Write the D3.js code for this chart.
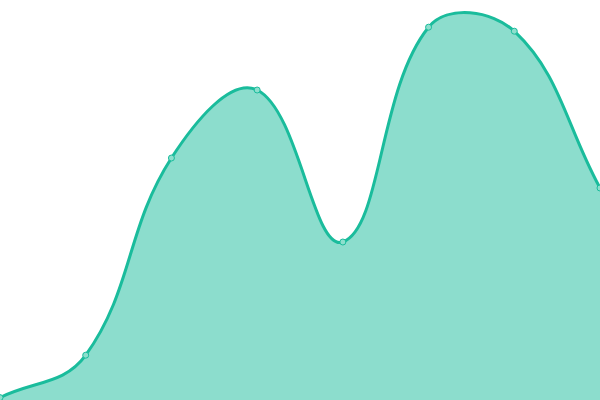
<!DOCTYPE html>
<html>
<head>
<meta charset="utf-8">
<script src="https://cdn.jsdelivr.net/npm/d3@7"></script>
<style>
  html, body { margin: 0; padding: 0; background: #fff; }
  svg { display: block; }
</style>
</head>
<body>
<div id="chart"></div>
<script>
const categories = ["1", "2", "3", "4", "5", "6", "7", "8"];
const values = [0.6, 11.2, 60.5, 77.5, 39.5, 93.2, 92.2, 53];

const width = 600;
const height = 400;

// spline with distance-weighted control points (tension 0.4)
function SplineCurve(context) {
  this._context = context;
}
SplineCurve.prototype = {
  tension: 0.4,
  areaStart: function() { this._line = 0; },
  areaEnd: function() { this._line = NaN; },
  lineStart: function() { this._x = []; this._y = []; },
  lineEnd: function() {
    const xs = this._x, ys = this._y, n = xs.length, t = this.tension;
    if (n) {
      this._line ? this._context.lineTo(xs[0], ys[0]) : this._context.moveTo(xs[0], ys[0]);
      const cp = [];
      for (let i = 0; i < n; i++) {
        const pi = i > 0 ? i - 1 : i, ni = i < n - 1 ? i + 1 : i;
        const d01 = Math.hypot(xs[i] - xs[pi], ys[i] - ys[pi]);
        const d12 = Math.hypot(xs[ni] - xs[i], ys[ni] - ys[i]);
        let s01 = d01 / (d01 + d12), s12 = d12 / (d01 + d12);
        if (isNaN(s01)) s01 = 0;
        if (isNaN(s12)) s12 = 0;
        const fa = t * s01, fb = t * s12;
        const dx = xs[ni] - xs[pi], dy = ys[ni] - ys[pi];
        cp.push({
          px: Math.max(0, Math.min(width, xs[i] - fa * dx)),
          py: Math.max(0, Math.min(height, ys[i] - fa * dy)),
          nx: Math.max(0, Math.min(width, xs[i] + fb * dx)),
          ny: Math.max(0, Math.min(height, ys[i] + fb * dy))
        });
      }
      for (let i = 1; i < n; i++) {
        this._context.bezierCurveTo(cp[i - 1].nx, cp[i - 1].ny, cp[i].px, cp[i].py, xs[i], ys[i]);
      }
    }
    if (this._line || (this._line !== 0 && n === 1)) this._context.closePath();
    this._line = 1 - this._line;
  },
  point: function(x, y) { this._x.push(+x); this._y.push(+y); }
};
const spline = context => new SplineCurve(context);

const svg = d3.select("#chart").append("svg")
    .attr("width", width)
    .attr("height", height);

const x = d3.scalePoint()
    .domain(categories)
    .range([0, width]);

const y = d3.scaleLinear()
    .domain([0, 100])
    .range([height, 0]);

const data = categories.map((c, i) => ({ cat: c, value: values[i] }));

const area = d3.area()
    .x(d => x(d.cat))
    .y0(height)
    .y1(d => y(d.value))
    .curve(spline);

const line = d3.line()
    .x(d => x(d.cat))
    .y(d => y(d.value))
    .curve(spline);

svg.append("path")
    .datum(data)
    .attr("d", area)
    .attr("fill", "#1abc9c")
    .attr("fill-opacity", 0.5);

svg.append("path")
    .datum(data)
    .attr("d", line)
    .attr("fill", "none")
    .attr("stroke", "#1abc9c")
    .attr("stroke-width", 3);

svg.selectAll("circle.pt")
    .data(data)
    .enter()
    .append("circle")
    .attr("class", "pt")
    .attr("cx", d => x(d.cat))
    .attr("cy", d => y(d.value))
    .attr("r", 3)
    .attr("fill", "#8ddfcd")
    .attr("stroke", "#1abc9c")
    .attr("stroke-width", 1);
</script>
</body>
</html>
